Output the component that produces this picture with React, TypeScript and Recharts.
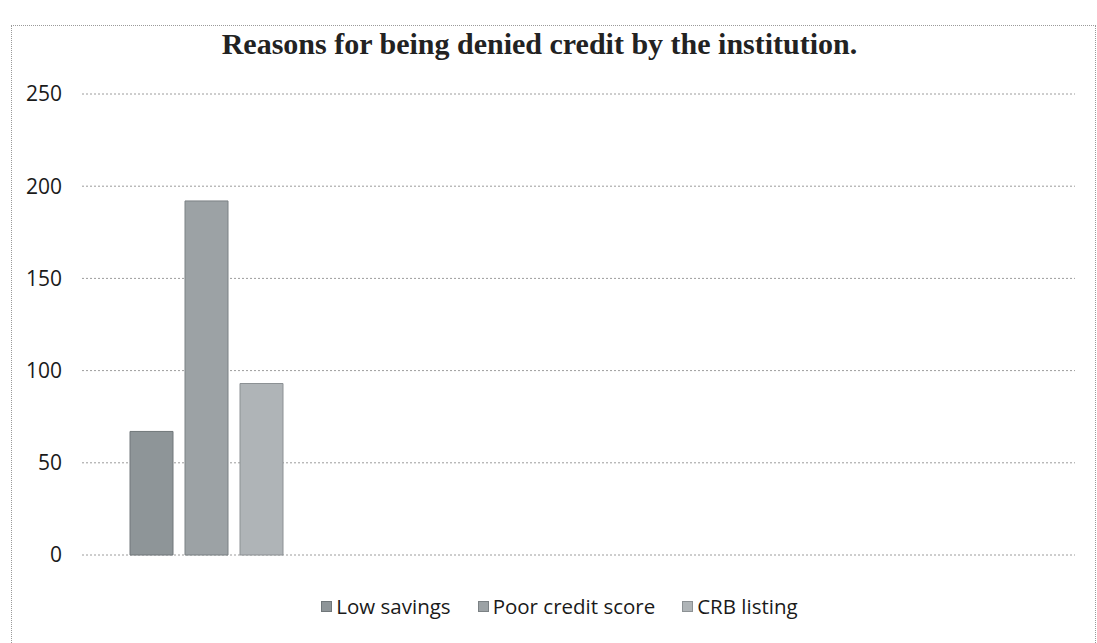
import { BarChart, Bar, XAxis, YAxis, CartesianGrid } from 'recharts'

// one filled category, the other three slots are empty in the original sheet
const categories = ['Reasons', '', ' ', '  ']
const lowSavings = [67, null, null, null]
const poorCreditScore = [192, null, null, null]
const crbListing = [93, null, null, null]
const yTicks = [0, 50, 100, 150, 200, 250]

const seriesInfo = [
  { key: 'low', name: 'Low savings', fill: '#8e9598', stroke: '#70777a' },
  { key: 'poor', name: 'Poor credit score', fill: '#9ca2a5', stroke: '#7b8184' },
  { key: 'crb', name: 'CRB listing', fill: '#afb4b7', stroke: '#8c9194' },
]

const data = categories.map((c, i) => ({
  name: c,
  low: lowSavings[i],
  poor: poorCreditScore[i],
  crb: crbListing[i],
}))

const FONT = '"Open Sans", "Liberation Sans", sans-serif'

function LegendRow() {
  return (
    <div
      style={{
        position: 'absolute',
        left: 0,
        top: 592,
        width: 1097,
        display: 'flex',
        justifyContent: 'center',
        gap: 27,
        fontFamily: FONT,
        fontSize: 20.5,
        color: '#1a1a1a',
        paddingLeft: 22,
        boxSizing: 'border-box',
      }}
    >
      {seriesInfo.map((s) => (
        <div key={s.key} style={{ display: 'flex', alignItems: 'center', gap: 4 }}>
          <span
            style={{
              width: 9,
              height: 9,
              background: s.fill,
              border: `1px solid ${s.stroke}`,
              display: 'inline-block',
            }}
          />
          <span>{s.name}</span>
        </div>
      ))}
    </div>
  )
}

export default function App() {
  return (
    <div
      style={{
        position: 'absolute',
        left: 0,
        top: 0,
        width: 1097,
        height: 643,
        background: '#ffffff',
        overflow: 'hidden',
      }}
    >
      {/* scanned frame of the chart object */}
      <div
        style={{
          position: 'absolute',
          left: 11,
          top: 25,
          width: 1083,
          height: 640,
          border: '1px dotted #9a9a9a',
        }}
      />
      <div
        style={{
          position: 'absolute',
          left: -9,
          top: 27,
          width: 1097,
          textAlign: 'center',
          fontFamily: '"Liberation Serif", "Times New Roman", serif',
          fontWeight: 'bold',
          fontSize: 30,
          color: '#222',
        }}
      >
        Reasons for being denied credit by the institution.
      </div>
      <div style={{ position: 'absolute', left: 0, top: 0 }}>
        <BarChart
          width={1097}
          height={643}
          data={data}
          margin={{ top: 94, right: 22, bottom: 88, left: 12 }}
          barSize={43}
          barGap={12}
        >
          <CartesianGrid vertical={false} stroke="#9c9c9c" strokeDasharray="2 2" />
          <XAxis dataKey="name" hide />
          <YAxis
            width={70}
            domain={[0, 250]}
            ticks={yTicks}
            axisLine={false}
            tickLine={false}
            tickMargin={14}
            tick={{ fill: '#1a1a1a', fontSize: 21, fontFamily: FONT }}
          />
          {seriesInfo.map((s) => (
            <Bar
              key={s.key}
              dataKey={s.key}
              name={s.name}
              fill={s.fill}
              stroke={s.stroke}
              strokeWidth={1}
              isAnimationActive={false}
            />
          ))}
        </BarChart>
      </div>
      <LegendRow />
    </div>
  )
}
